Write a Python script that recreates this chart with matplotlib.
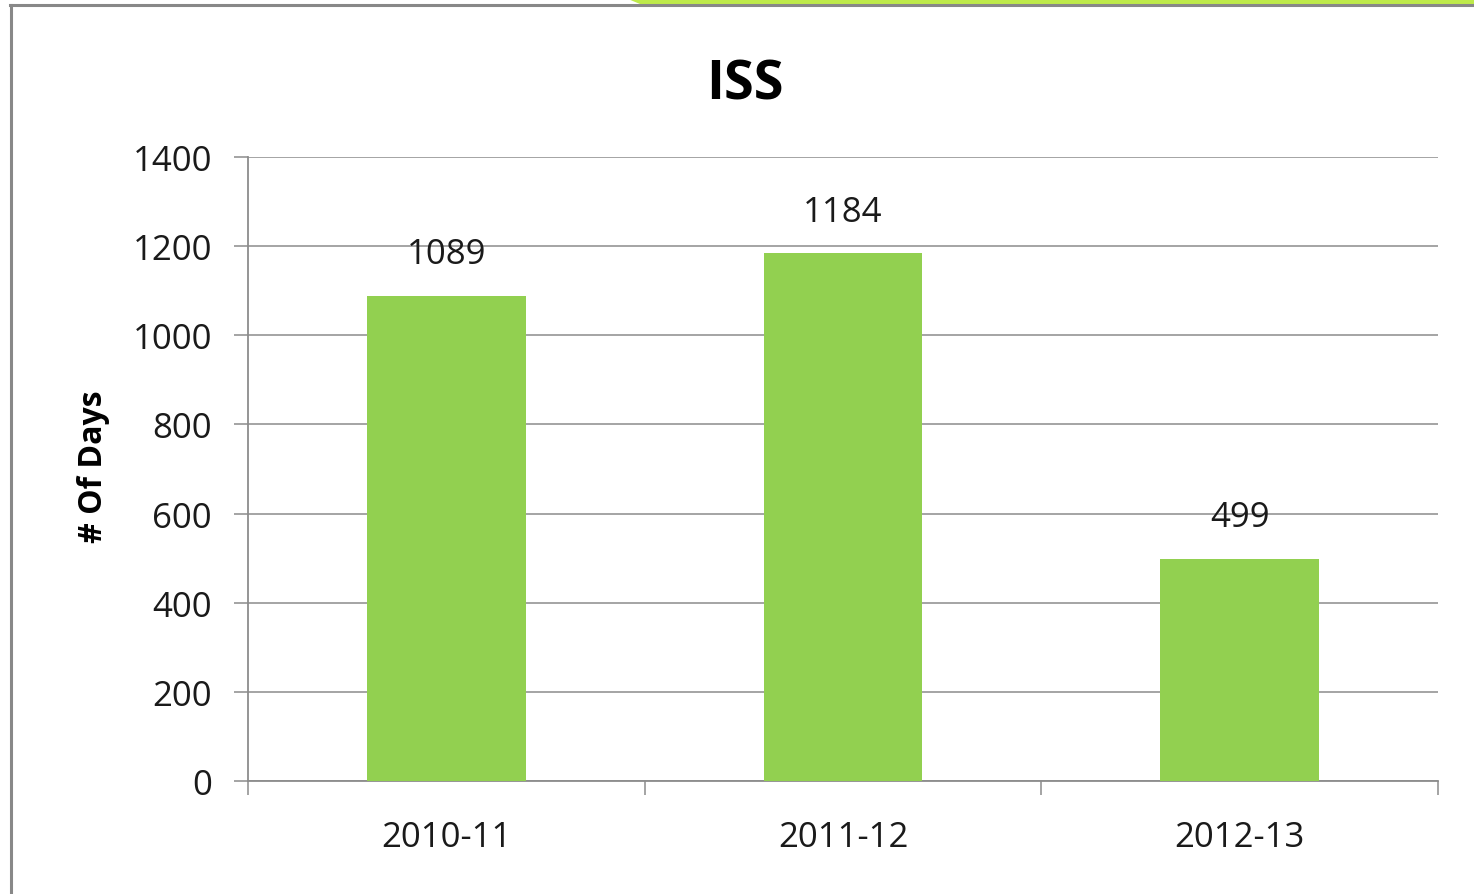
import matplotlib
matplotlib.use("Agg")
import matplotlib.pyplot as plt
from matplotlib.patches import Polygon
from matplotlib.lines import Line2D

categories = ["2010-11", "2011-12", "2012-13"]
values = [1089, 1184, 499]
yticks = [0, 200, 400, 600, 800, 1000, 1200, 1400]

plt.rcParams['font.family'] = ['Open Sans', 'DejaVu Sans']

W, H = 1474, 895
fig = plt.figure(figsize=(W / 100, H / 100), dpi=100)
fig.patch.set_facecolor("white")

# decorative frame
fig.add_artist(Line2D([11 / W, 11 / W], [0, 1 - 6 / H], transform=fig.transFigure,
                      color="#888888", lw=2.2))
fig.add_artist(Line2D([10 / W, 1], [1 - 6 / H, 1 - 6 / H], transform=fig.transFigure,
                      color="#888888", lw=2.2))
fig.add_artist(Polygon([[628 / W, 1], [1, 1], [1, 1 - 4.5 / H], [640 / W, 1 - 4.5 / H]],
                       closed=True, transform=fig.transFigure, color="#BEEA4A", lw=0))

ax = fig.add_axes([248 / W, 113 / H, 1190 / W, 624 / H])
x = list(range(len(categories)))
bars = ax.bar(x, values, width=0.4, color="#92D050", zorder=3)

ax.set_xlim(-0.5, 2.5)
ax.set_ylim(0, 1400)
ax.set_yticks(yticks)
ax.yaxis.grid(True, color="#8c8c8c", lw=1.1, zorder=0)
ax.set_axisbelow(True)

for s in ["top", "right"]:
    ax.spines[s].set_visible(False)
for s in ["left", "bottom"]:
    ax.spines[s].set_color("#8c8c8c")
    ax.spines[s].set_linewidth(1.3)

ax.tick_params(axis="y", length=10, width=1.1, color="#8c8c8c", labelsize=25, pad=16,
               labelcolor="#1a1a1a")
ax.set_xticks(x)
ax.set_xticklabels(categories)
ax.tick_params(axis="x", which="major", length=0, labelsize=25, pad=28, labelcolor="#1a1a1a")
ax.set_xticks([-0.5, 0.5, 1.5, 2.5], minor=True)
ax.tick_params(axis="x", which="minor", length=10, width=1.1, color="#8c8c8c", direction="out")

for xi, v in zip(x, values):
    ax.annotate(str(v), (xi, v), xytext=(0, 30), textcoords="offset points",
                ha="center", va="center", fontsize=25, color="#1a1a1a")

fig.text(745 / W, 1 - 86 / H, "ISS", fontsize=39, fontweight="bold",
         ha="center", va="center", color="black")
fig.text(94 / W, 1 - 467 / H, "# Of Days", fontsize=23, fontweight="bold",
         ha="center", va="center", rotation=90, color="black")

fig.savefig("out.png", dpi=100)
